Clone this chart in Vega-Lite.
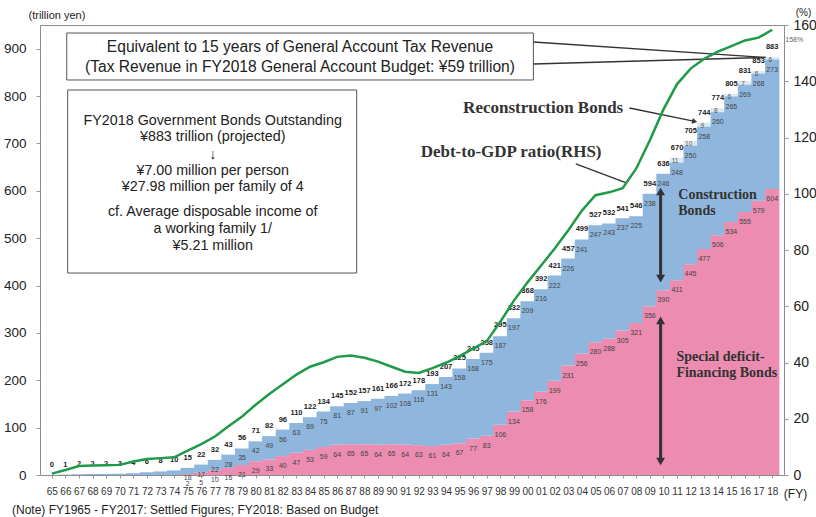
{
  "$schema": "https://vega.github.io/schema/vega-lite/v6.json",
  "width": 744,
  "height": 450,
  "autosize": {"type": "none"},
  "padding": {"left": 40, "top": 25, "right": 32, "bottom": 42},
  "background": "white",
  "config": {
    "view": {"stroke": "#8c8c8c", "strokeWidth": 1},
    "font": "Liberation Sans",
    "axis": {"grid": false, "domain": false}
  },
  "title": {
    "text": "(Note) FY1965 - FY2017: Settled Figures; FY2018: Based on Budget",
    "orient": "bottom",
    "anchor": "start",
    "frame": "group",
    "font": "Liberation Sans",
    "fontSize": 12,
    "fontWeight": "normal",
    "color": "#222222",
    "dx": -28,
    "offset": 6
  },
  "datasets": {
    "bonds": [
      {"fy": 1965, "special": 0, "construction": 0.2, "recon": 0, "total": 0.2, "ratio": 0.5},
      {"fy": 1966, "special": 0, "construction": 0.9, "recon": 0, "total": 0.9, "ratio": 1.8},
      {"fy": 1967, "special": 0, "construction": 1.6, "recon": 0, "total": 1.6, "ratio": 3.2},
      {"fy": 1968, "special": 0, "construction": 2.2, "recon": 0, "total": 2.2, "ratio": 3.4},
      {"fy": 1969, "special": 0, "construction": 2.4, "recon": 0, "total": 2.4, "ratio": 3.5},
      {"fy": 1970, "special": 0, "construction": 2.8, "recon": 0, "total": 2.8, "ratio": 3.6},
      {"fy": 1971, "special": 0, "construction": 3.9, "recon": 0, "total": 3.9, "ratio": 4.8},
      {"fy": 1972, "special": 0, "construction": 5.8, "recon": 0, "total": 5.8, "ratio": 5.7},
      {"fy": 1973, "special": 0, "construction": 7.5, "recon": 0, "total": 7.5, "ratio": 6.0},
      {"fy": 1974, "special": 0, "construction": 9.7, "recon": 0, "total": 9.7, "ratio": 6.3},
      {"fy": 1975, "special": 2, "construction": 13, "recon": 0, "total": 15, "ratio": 8.7},
      {"fy": 1976, "special": 5, "construction": 17, "recon": 0, "total": 22, "ratio": 11.0},
      {"fy": 1977, "special": 10, "construction": 22, "recon": 0, "total": 32, "ratio": 13.7},
      {"fy": 1978, "special": 15, "construction": 28, "recon": 0, "total": 43, "ratio": 17.3},
      {"fy": 1979, "special": 21, "construction": 35, "recon": 0, "total": 56, "ratio": 20.8},
      {"fy": 1980, "special": 29, "construction": 42, "recon": 0, "total": 71, "ratio": 25.0},
      {"fy": 1981, "special": 33, "construction": 49, "recon": 0, "total": 82, "ratio": 28.8},
      {"fy": 1982, "special": 40, "construction": 56, "recon": 0, "total": 96, "ratio": 32.3},
      {"fy": 1983, "special": 47, "construction": 63, "recon": 0, "total": 110, "ratio": 35.7},
      {"fy": 1984, "special": 53, "construction": 69, "recon": 0, "total": 122, "ratio": 38.5},
      {"fy": 1985, "special": 59, "construction": 75, "recon": 0, "total": 134, "ratio": 40.1},
      {"fy": 1986, "special": 64, "construction": 81, "recon": 0, "total": 145, "ratio": 42.0},
      {"fy": 1987, "special": 65, "construction": 87, "recon": 0, "total": 152, "ratio": 42.5},
      {"fy": 1988, "special": 65, "construction": 91, "recon": 0, "total": 157, "ratio": 41.7},
      {"fy": 1989, "special": 64, "construction": 97, "recon": 0, "total": 161, "ratio": 40.3},
      {"fy": 1990, "special": 65, "construction": 102, "recon": 0, "total": 166, "ratio": 38.5},
      {"fy": 1991, "special": 64, "construction": 108, "recon": 0, "total": 172, "ratio": 36.7},
      {"fy": 1992, "special": 63, "construction": 116, "recon": 0, "total": 178, "ratio": 36.3},
      {"fy": 1993, "special": 61, "construction": 131, "recon": 0, "total": 193, "ratio": 38.0},
      {"fy": 1994, "special": 64, "construction": 143, "recon": 0, "total": 207, "ratio": 39.9},
      {"fy": 1995, "special": 67, "construction": 158, "recon": 0, "total": 225, "ratio": 42.3},
      {"fy": 1996, "special": 77, "construction": 168, "recon": 0, "total": 245, "ratio": 44.9},
      {"fy": 1997, "special": 83, "construction": 175, "recon": 0, "total": 258, "ratio": 47.6},
      {"fy": 1998, "special": 106, "construction": 187, "recon": 0, "total": 295, "ratio": 54.5},
      {"fy": 1999, "special": 134, "construction": 197, "recon": 0, "total": 332, "ratio": 62.0},
      {"fy": 2000, "special": 158, "construction": 209, "recon": 0, "total": 368, "ratio": 68.5},
      {"fy": 2001, "special": 176, "construction": 216, "recon": 0, "total": 392, "ratio": 74.5},
      {"fy": 2002, "special": 199, "construction": 222, "recon": 0, "total": 421, "ratio": 80.5},
      {"fy": 2003, "special": 231, "construction": 226, "recon": 0, "total": 457, "ratio": 87.0},
      {"fy": 2004, "special": 256, "construction": 241, "recon": 0, "total": 499, "ratio": 94.0},
      {"fy": 2005, "special": 280, "construction": 247, "recon": 0, "total": 527, "ratio": 99.5},
      {"fy": 2006, "special": 288, "construction": 243, "recon": 0, "total": 532, "ratio": 100.5},
      {"fy": 2007, "special": 305, "construction": 237, "recon": 0, "total": 541, "ratio": 102.0},
      {"fy": 2008, "special": 321, "construction": 225, "recon": 0, "total": 546, "ratio": 109.0},
      {"fy": 2009, "special": 356, "construction": 238, "recon": 0, "total": 594, "ratio": 119.0},
      {"fy": 2010, "special": 390, "construction": 246, "recon": 0, "total": 636, "ratio": 130.0},
      {"fy": 2011, "special": 411, "construction": 248, "recon": 11, "total": 670, "ratio": 139.0},
      {"fy": 2012, "special": 445, "construction": 250, "recon": 10, "total": 705, "ratio": 144.5},
      {"fy": 2013, "special": 477, "construction": 258, "recon": 9, "total": 744, "ratio": 148.0},
      {"fy": 2014, "special": 506, "construction": 260, "recon": 8, "total": 774, "ratio": 150.5},
      {"fy": 2015, "special": 534, "construction": 265, "recon": 6, "total": 805, "ratio": 152.5},
      {"fy": 2016, "special": 555, "construction": 269, "recon": 7, "total": 831, "ratio": 154.5},
      {"fy": 2017, "special": 579, "construction": 268, "recon": 6, "total": 853, "ratio": 155.5},
      {"fy": 2018, "special": 604, "construction": 273, "recon": 6, "total": 883, "ratio": 158.3}
    ],
    "boxes": [
      {"fy": 1966.1, "fy2": 2000.43, "y1": 933.1, "y2": 833.9},
      {"fy": 1966.17, "fy2": 1987.43, "y1": 812.8, "y2": 426.4}
    ],
    "boxtext": [
      {"box": 1, "fy": 1983.26, "v": 903.5, "text": "Equivalent to 15 years of General Account Tax Revenue"},
      {"box": 1, "fy": 1983.26, "v": 861.3, "text": "(Tax Revenue in FY2018 General Account Budget: ¥59 trillion)"},
      {"box": 2, "fy": 1976.84, "v": 748, "text": "FY2018 Government Bonds Outstanding"},
      {"box": 2, "fy": 1976.84, "v": 714, "text": "¥883 trillion (projected)"},
      {"box": 2, "fy": 1976.84, "v": 675.5, "text": "↓"},
      {"box": 2, "fy": 1976.84, "v": 642.5, "text": "¥7.00 million per person"},
      {"box": 2, "fy": 1976.84, "v": 607.3, "text": "¥27.98 million per family of 4"},
      {"box": 2, "fy": 1976.84, "v": 554.6, "text": "cf.  Average disposable income of"},
      {"box": 2, "fy": 1976.84, "v": 518.7, "text": "a working family 1/"},
      {"box": 2, "fy": 1976.84, "v": 483.4, "text": "¥5.21 million"}
    ],
    "callouts": [
      {"pos": "center", "fy": 2001.15, "v": 774.8, "text": "Reconstruction Bonds"},
      {"pos": "center", "fy": 1998.79, "v": 681.9, "text": "Debt-to-GDP ratio(RHS)"},
      {"pos": "left", "fy": 2011.09, "v": 591.1, "text": "Construction"},
      {"pos": "left", "fy": 2011.09, "v": 557.3, "text": "Bonds"},
      {"pos": "left", "fy": 2010.95, "v": 249.8, "text": "Special deficit-"},
      {"pos": "left", "fy": 2010.95, "v": 214.7, "text": "Financing Bonds"}
    ],
    "pointers": [
      {"kind": "thin", "fy": 2000.43, "y1": 914.1, "fy2": 2017.5, "y2": 881.5},
      {"kind": "thin", "fy": 2000.43, "y1": 867.7, "fy2": 2017.5, "y2": 881.5},
      {"kind": "thin", "fy": 2007.5, "y1": 774.8, "fy2": 2012.3, "y2": 746.5},
      {"kind": "thin", "fy": 2003.55, "y1": 656.6, "fy2": 2007.32, "y2": 616.4},
      {"kind": "thick", "fy": 2009.79, "y1": 598.5, "fy2": 2009.79, "y2": 414.8},
      {"kind": "thick", "fy": 2009.79, "y1": 326.2, "fy2": 2009.79, "y2": 28.5}
    ],
    "heads": [
      {"dir": "up", "fy": 2009.79, "v": 598.5},
      {"dir": "down", "fy": 2009.79, "v": 414.8},
      {"dir": "up", "fy": 2009.79, "v": 326.2},
      {"dir": "down", "fy": 2009.79, "v": 28.5}
    ]
  },
  "encoding": {
    "x": {
      "field": "fy", "type": "quantitative",
      "scale": {"domain": [1964.5, 2018.5], "nice": false, "zero": false},
      "axis": {
        "values": [1965,1966,1967,1968,1969,1970,1971,1972,1973,1974,1975,1976,1977,1978,1979,1980,1981,1982,1983,1984,1985,1986,1987,1988,1989,1990,1991,1992,1993,1994,1995,1996,1997,1998,1999,2000,2001,2002,2003,2004,2005,2006,2007,2008,2009,2010,2011,2012,2013,2014,2015,2016,2017,2018],
        "format": "d",
        "labelExpr": "substring(datum.label, 2, 4)",
        "labelFontSize": 10,
        "labelColor": "#333333",
        "labelOverlap": false,
        "labelFlush": false,
        "labelBound": false,
        "labelPadding": 8,
        "tickSize": 3,
        "tickColor": "#999999",
        "title": "(FY)",
        "titleX": 755,
        "titleY": 18,
        "titleAlign": "center",
        "titleBaseline": "middle",
        "titleFontSize": 12,
        "titleFontWeight": "normal",
        "titleColor": "#222222"
      }
    }
  },
  "layer": [
    {
      "layer": [
        {
          "data": {"name": "bonds"},
          "transform": [{"filter": "datum.recon > 0"}],
          "mark": {"type": "bar", "orient": "vertical", "size": 14.3, "color": "#dfe8f1"},
          "encoding": {
            "y": {
              "field": "total", "type": "quantitative",
              "scale": {"domain": [0, 950], "nice": false},
              "axis": {
                "orient": "left",
                "values": [0,50,100,150,200,250,300,350,400,450,500,550,600,650,700,750,800,850,900,950],
                "labelFontSize": 13.5,
                "labelColor": "#222222",
                "labelPadding": 10,
                "tickSize": 4,
                "tickColor": "#999999",
                "title": "(trillion yen)",
                "titleAngle": 0,
                "titleX": -12,
                "titleY": -10,
                "titleAlign": "left",
                "titleBaseline": "middle",
                "titleFontSize": 11,
                "titleFontWeight": "normal",
                "titleColor": "#222222"
              }
            }
          }
        },
        {
          "data": {"name": "bonds"},
          "transform": [{"fold": ["special", "construction"], "as": ["bond", "amount"]}],
          "mark": {"type": "bar", "orient": "vertical", "size": 14.3},
          "encoding": {
            "y": {"field": "amount", "type": "quantitative", "stack": "zero", "scale": {"domain": [0, 950], "nice": false}},
            "color": {"field": "bond", "type": "nominal", "scale": {"domain": ["special", "construction"], "range": ["#eb8cb0", "#8fb7de"]}, "legend": null},
            "order": {"field": "bond", "sort": "descending"}
          }
        },
        {
          "data": {"name": "bonds"},
          "mark": {"type": "text", "baseline": "middle", "align": "center", "dy": -10, "fontSize": 7.5, "fontWeight": "bold", "color": "#222222"},
          "encoding": {
            "y": {"field": "total", "type": "quantitative", "scale": {"domain": [0, 950], "nice": false}},
            "text": {"field": "total", "type": "quantitative", "format": ".0f"}
          }
        },
        {
          "data": {"name": "bonds"},
          "transform": [
            {"filter": "datum.fy >= 1975"},
            {"fold": ["special", "construction"], "as": ["bond", "amount"]},
            {"stack": "amount", "groupby": ["fy"], "sort": [{"field": "bond", "order": "descending"}], "as": ["lo", "hi"]}
          ],
          "mark": {"type": "text", "baseline": "middle", "align": "center", "dy": 10, "fontSize": 7, "color": "#444444"},
          "encoding": {
            "y": {"field": "hi", "type": "quantitative", "scale": {"domain": [0, 950], "nice": false}},
            "text": {"field": "amount", "type": "quantitative", "format": ".0f"}
          }
        },
        {
          "data": {"name": "bonds"},
          "transform": [{"filter": "datum.recon > 0"}],
          "mark": {"type": "text", "baseline": "middle", "align": "center", "dy": 3, "dx": -2, "fontSize": 6.5, "color": "#555555"},
          "encoding": {
            "y": {"field": "total", "type": "quantitative", "scale": {"domain": [0, 950], "nice": false}},
            "text": {"field": "recon", "type": "quantitative", "format": ".0f"}
          }
        },
        {
          "data": {"name": "boxes"},
          "mark": {"type": "rect", "fill": "white", "stroke": "#555555", "strokeWidth": 1},
          "encoding": {
            "x2": {"field": "fy2"},
            "y": {"field": "y1", "type": "quantitative", "scale": {"domain": [0, 950], "nice": false}},
            "y2": {"field": "y2"}
          }
        },
        {
          "data": {"name": "boxtext"},
          "transform": [{"filter": "datum.box == 1"}],
          "mark": {"type": "text", "baseline": "middle", "align": "center", "fontSize": 15.6, "color": "#222222"},
          "encoding": {
            "y": {"field": "v", "type": "quantitative", "scale": {"domain": [0, 950], "nice": false}},
            "text": {"field": "text"}
          }
        },
        {
          "data": {"name": "boxtext"},
          "transform": [{"filter": "datum.box == 2"}],
          "mark": {"type": "text", "baseline": "middle", "align": "center", "fontSize": 14.3, "color": "#222222"},
          "encoding": {
            "y": {"field": "v", "type": "quantitative", "scale": {"domain": [0, 950], "nice": false}},
            "text": {"field": "text"}
          }
        },
        {
          "data": {"name": "callouts"},
          "transform": [{"filter": "datum.pos == 'center'"}],
          "mark": {"type": "text", "baseline": "middle", "align": "center", "font": "Liberation Serif", "fontWeight": "bold", "fontSize": 17, "color": "#333333"},
          "encoding": {
            "y": {"field": "v", "type": "quantitative", "scale": {"domain": [0, 950], "nice": false}},
            "text": {"field": "text"}
          }
        },
        {
          "data": {"name": "callouts"},
          "transform": [{"filter": "datum.pos == 'left'"}],
          "mark": {"type": "text", "baseline": "middle", "align": "left", "font": "Liberation Serif", "fontWeight": "bold", "fontSize": 14, "color": "#333333"},
          "encoding": {
            "y": {"field": "v", "type": "quantitative", "scale": {"domain": [0, 950], "nice": false}},
            "text": {"field": "text"}
          }
        },
        {
          "data": {"name": "pointers"},
          "transform": [{"filter": "datum.kind == 'thin'"}],
          "mark": {"type": "rule", "color": "#333333", "strokeWidth": 1.3},
          "encoding": {
            "x2": {"field": "fy2"},
            "y": {"field": "y1", "type": "quantitative", "scale": {"domain": [0, 950], "nice": false}},
            "y2": {"field": "y2"}
          }
        },
        {
          "data": {"name": "pointers"},
          "transform": [{"filter": "datum.kind == 'thick'"}],
          "mark": {"type": "rule", "color": "#333333", "strokeWidth": 3},
          "encoding": {
            "x2": {"field": "fy2"},
            "y": {"field": "y1", "type": "quantitative", "scale": {"domain": [0, 950], "nice": false}},
            "y2": {"field": "y2"}
          }
        },
        {
          "data": {"name": "heads"},
          "mark": {"type": "point", "filled": true, "size": 80, "color": "#333333", "opacity": 1},
          "encoding": {
            "y": {"field": "v", "type": "quantitative", "scale": {"domain": [0, 950], "nice": false}},
            "shape": {"field": "dir", "type": "nominal", "scale": {"domain": ["up", "down"], "range": ["triangle-up", "triangle-down"]}, "legend": null}
          }
        },
        {
          "data": {"values": [{"fy": 2012.3, "v": 746.5}]},
          "mark": {"type": "point", "filled": true, "size": 35, "shape": "triangle-right", "angle": 12, "color": "#333333", "opacity": 1},
          "encoding": {
            "y": {"field": "v", "type": "quantitative", "scale": {"domain": [0, 950], "nice": false}}
          }
        }
      ]
    },
    {
      "layer": [
        {
          "data": {"name": "bonds"},
          "mark": {"type": "line", "color": "#1f9a48", "strokeWidth": 2.5},
          "encoding": {
            "y": {
              "field": "ratio", "type": "quantitative",
              "scale": {"domain": [0, 160], "nice": false},
              "axis": {
                "orient": "right",
                "values": [0, 20, 40, 60, 80, 100, 120, 140, 160],
                "labelFontSize": 14,
                "labelColor": "#222222",
                "labelPadding": 5,
                "tickSize": 4,
                "tickColor": "#999999",
                "title": "(%)",
                "titleAngle": 0,
                "titleX": 19,
                "titleY": -13,
                "titleAlign": "center",
                "titleBaseline": "middle",
                "titleFontSize": 10,
                "titleFontWeight": "normal",
                "titleColor": "#222222"
              }
            }
          }
        },
        {
          "data": {"values": [{"fy": 2018, "ratio": 158.3, "label": "158%"}]},
          "mark": {"type": "text", "baseline": "middle", "align": "center", "dx": 22, "dy": 10, "fontSize": 7, "color": "#666666"},
          "encoding": {
            "y": {"field": "ratio", "type": "quantitative", "scale": {"domain": [0, 160], "nice": false}},
            "text": {"field": "label"}
          }
        }
      ]
    }
  ],
  "resolve": {"scale": {"y": "independent"}, "axis": {"y": "independent"}}
}
